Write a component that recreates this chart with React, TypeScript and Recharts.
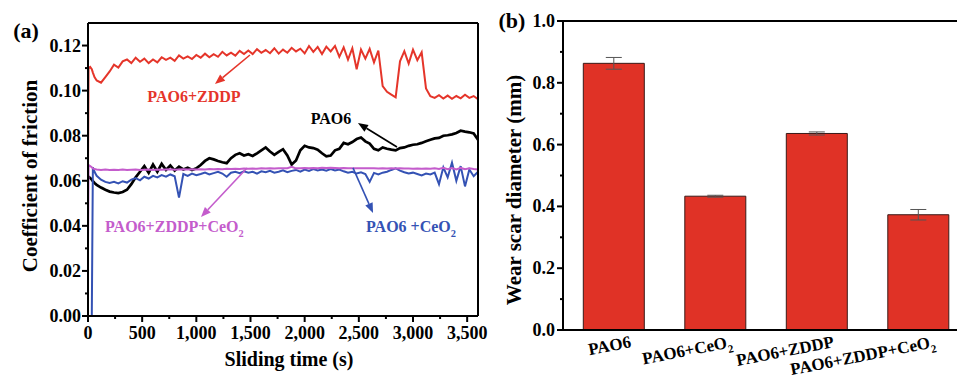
import React from "react";
import {
  LineChart,
  Line,
  XAxis,
  YAxis,
  ReferenceLine,
  BarChart,
  Bar,
  ErrorBar,
} from "recharts";

const FONT = '"Liberation Serif", "Times New Roman", serif';

// sliding time (s) shared by the four friction curves
const times = [
  0, 5, 20, 35, 45, 60, 80, 120, 160, 200,
  240, 280, 320, 360, 400, 440, 480, 520, 560, 600,
  640, 680, 720, 760, 800, 840, 880, 920, 960, 1000,
  1040, 1080, 1120, 1160, 1200, 1240, 1280, 1320, 1360, 1400,
  1440, 1480, 1520, 1560, 1600, 1640, 1680, 1720, 1760, 1800,
  1840, 1880, 1920, 1960, 2000, 2040, 2080, 2120, 2160, 2200,
  2240, 2280, 2320, 2360, 2400, 2440, 2480, 2520, 2560, 2600,
  2640, 2680, 2720, 2760, 2800, 2840, 2880, 2920, 2960, 3000,
  3040, 3080, 3120, 3160, 3200, 3240, 3280, 3320, 3360, 3400,
  3440, 3480, 3520, 3560, 3600,
];

const pao6 = [
  0.062, 0.0618, 0.0612, 0.0605, 0.0598, 0.059, 0.0582, 0.057, 0.056, 0.0552,
  0.0548, 0.0545, 0.055, 0.056, 0.0585, 0.0615, 0.064, 0.0665, 0.0635, 0.0672,
  0.064, 0.0675, 0.0648, 0.0668, 0.0645, 0.0662, 0.065, 0.0658, 0.0648, 0.0655,
  0.067, 0.0688, 0.07, 0.0695, 0.0688, 0.0682, 0.0678, 0.07, 0.0715, 0.0722,
  0.0712, 0.0718, 0.071, 0.0722, 0.0735, 0.0748, 0.073, 0.0715, 0.0728, 0.074,
  0.0712, 0.0672, 0.069, 0.0735, 0.0755, 0.0748, 0.0745, 0.0738, 0.0722, 0.0708,
  0.0712, 0.0735, 0.0742, 0.0768, 0.0762, 0.0772, 0.0785, 0.0792, 0.0775, 0.0765,
  0.0742, 0.0735, 0.0748, 0.0742, 0.0738, 0.0735, 0.0745, 0.0748, 0.0755, 0.076,
  0.0762, 0.0768, 0.0775, 0.0782, 0.0788, 0.079, 0.08, 0.0802, 0.0806, 0.0812,
  0.0822, 0.0818, 0.0815, 0.081, 0.0782,
];

const pao6Zddp = [
  0.065, 0.11, 0.1105, 0.1095, 0.108, 0.106, 0.1045, 0.1035, 0.106, 0.1085,
  0.1115, 0.1102, 0.113, 0.1138, 0.1122, 0.1146, 0.1128, 0.1142, 0.1122, 0.1138,
  0.1125, 0.1148, 0.1136, 0.1146, 0.1132, 0.1156, 0.1142, 0.1152, 0.114, 0.1158,
  0.1146, 0.1164, 0.1148, 0.1162, 0.115, 0.1172, 0.1156, 0.1168, 0.1155, 0.1176,
  0.1162, 0.1178, 0.1162, 0.1184, 0.1168, 0.118, 0.1166, 0.1188, 0.1164, 0.1182,
  0.1168, 0.119, 0.1174, 0.1186, 0.1165, 0.1198, 0.1172, 0.1194, 0.1162, 0.1195,
  0.1174, 0.1198, 0.115, 0.1192, 0.1138, 0.1188, 0.1095, 0.1182, 0.1142, 0.1185,
  0.1125, 0.1178, 0.102, 0.0995, 0.0982, 0.097, 0.113, 0.1175, 0.112, 0.1182,
  0.1135, 0.117, 0.101, 0.0975, 0.0968, 0.098, 0.0965, 0.0978, 0.0964, 0.0976,
  0.0966, 0.0982, 0.0968, 0.0976, 0.0962,
];

const pao6CeO2 = [
  0, 0, 0, 0, 0.066, 0.064, 0.0622, 0.0605, 0.0595, 0.059,
  0.0595, 0.0588, 0.0598, 0.0592, 0.0605, 0.0612, 0.0602, 0.0618, 0.061, 0.0622,
  0.0615, 0.0625, 0.0618, 0.0628, 0.062, 0.0525, 0.063, 0.0622, 0.0632, 0.0625,
  0.063, 0.0636, 0.0628, 0.0634, 0.064, 0.0632, 0.0618, 0.0636, 0.064, 0.0634,
  0.0642, 0.0636, 0.064, 0.0632, 0.0642, 0.0638, 0.0644, 0.0636, 0.064, 0.0646,
  0.0638, 0.0644, 0.0648, 0.064, 0.065, 0.0644, 0.0652, 0.0646, 0.065, 0.0645,
  0.0652, 0.0646, 0.065, 0.0642, 0.0636, 0.064, 0.0632, 0.0638, 0.063, 0.0595,
  0.0635, 0.0628, 0.0636, 0.064, 0.0648, 0.0655, 0.0645, 0.0638, 0.0632, 0.0636,
  0.063, 0.0624, 0.0632, 0.0628, 0.0636, 0.0585, 0.066, 0.0615, 0.068, 0.06,
  0.0665, 0.0575, 0.065, 0.062, 0.064,
];

const pao6ZddpCeO2 = [
  0.033, 0.067, 0.0665, 0.066, 0.0655, 0.0652, 0.065, 0.0648, 0.065, 0.0648,
  0.0649, 0.0648, 0.065, 0.0648, 0.0649, 0.065, 0.0648, 0.0649, 0.065, 0.0648,
  0.065, 0.0649, 0.065, 0.0651, 0.0649, 0.065, 0.0651, 0.065, 0.0651, 0.065,
  0.0651, 0.065, 0.0652, 0.0651, 0.0652, 0.0651, 0.0653, 0.0652, 0.0653, 0.0652,
  0.0654, 0.0653, 0.0654, 0.0653, 0.0655, 0.0654, 0.0655, 0.0654, 0.0656, 0.0655,
  0.0656, 0.0662, 0.0655, 0.0656, 0.0657, 0.0656, 0.0657, 0.0656, 0.0658, 0.0657,
  0.0658, 0.0657, 0.0656, 0.0657, 0.0656, 0.0655, 0.0656, 0.0655, 0.0656, 0.0655,
  0.0655, 0.0654, 0.0655, 0.0654, 0.0655, 0.0654, 0.0655, 0.0654, 0.0654, 0.0653,
  0.0654, 0.0653, 0.0654, 0.0653, 0.0655, 0.0652, 0.0658, 0.0651, 0.0656, 0.065,
  0.0657, 0.0651, 0.0655, 0.0652, 0.065,
];

const fricTicks = [0, 0.01, 0.02, 0.03, 0.04, 0.05, 0.06, 0.07, 0.08, 0.09, 0.1, 0.11, 0.12];
const timeTicks = [0, 250, 500, 750, 1000, 1250, 1500, 1750, 2000, 2250, 2500, 2750, 3000, 3250, 3500];

// wear scar diameter (mm)
const wearCats = ["PAO6", "PAO6+CeO2", "PAO6+ZDDP", "PAO6+ZDDP+CeO2"];
const wearMean = [0.863, 0.433, 0.636, 0.373];
const wearErr = [0.019, 0.003, 0.005, 0.017];
const wearTicks = [0, 0.1, 0.2, 0.3, 0.4, 0.5, 0.6, 0.7, 0.8, 0.9, 1.0];

const RED = "#e5352a";
const BLUE = "#3452b4";
const MAGENTA = "#c45ccc";

const toRows = (vals: number[]) => times.map((t, i) => ({ t, v: vals[i] }));

const wearData = wearCats.map((c, i) => ({ name: c, d: wearMean[i], err: wearErr[i] }));

function Chem({ label, size }: { label: string; size: number }) {
  // CeO2 -> CeO with subscript 2
  if (label.endsWith("O2")) {
    return (
      <>
        {label.slice(0, -1)}
        <tspan dy={size * 0.3} fontSize={size * 0.65}>
          2
        </tspan>
      </>
    );
  }
  return <>{label}</>;
}

function LeftYTick(props: any) {
  const { x, y, index, payload } = props;
  const major = index % 2 === 0;
  return (
    <g>
      <line x1={x} x2={x - (major ? 6 : 3)} y1={y} y2={y} stroke="#000" strokeWidth={2} />
      {major && (
        <text x={x - 7} y={y + 6} textAnchor="end" fontSize={18} fontWeight="bold" fontFamily={FONT} fill="#000">
          {payload.value.toFixed(2)}
        </text>
      )}
    </g>
  );
}

function RightBorderTick(props: any) {
  const { x, y, index } = props;
  const major = index % 2 === 0;
  return <line x1={x} x2={x + (major ? 4 : 2)} y1={y} y2={y} stroke="#000" strokeWidth={1.5} />;
}

function TimeTick(props: any) {
  const { x, y, index, payload } = props;
  const major = index % 2 === 0;
  return (
    <g>
      <line x1={x} x2={x} y1={y} y2={y + (major ? 6 : 3)} stroke="#000" strokeWidth={2} />
      {major && (
        <text x={x} y={y + 23} textAnchor="middle" fontSize={18} fontWeight="bold" fontFamily={FONT} fill="#000">
          {payload.value.toLocaleString("en-US")}
        </text>
      )}
    </g>
  );
}

function WearYTick(props: any) {
  const { x, y, index, payload } = props;
  const major = index % 2 === 0;
  return (
    <g>
      <line x1={x} x2={x - (major ? 6 : 3)} y1={y} y2={y} stroke="#000" strokeWidth={2} />
      {major && (
        <text x={x - 8} y={y + 6} textAnchor="end" fontSize={18} fontWeight="bold" fontFamily={FONT} fill="#000">
          {payload.value.toFixed(1)}
        </text>
      )}
    </g>
  );
}

function WearXTick(props: any) {
  const { x, y, payload } = props;
  const tx = x + 18;
  const ty = y + 17;
  const tf = `translate(${tx}px, ${ty}px) rotate(-11deg)`;
  return (
    <g
      transform={`translate(${tx},${ty}) rotate(-11)`}
      style={{ transform: tf, transformBox: "view-box", transformOrigin: "0 0" }}
    >
      <text x={0} y={0} textAnchor="end" fontSize={17} fontWeight="bold" fontFamily={FONT} fill="#000">
        <Chem label={payload.value} size={17} />
      </text>
    </g>
  );
}

function makeArrow(color: string) {
  return (p: any) => {
    const { x1, y1, x2, y2 } = p;
    const ang = Math.atan2(y2 - y1, x2 - x1);
    const L = 10;
    const W = 4;
    const bx = x2 - L * Math.cos(ang);
    const by = y2 - L * Math.sin(ang);
    const px = -Math.sin(ang) * W;
    const py = Math.cos(ang) * W;
    return (
      <g>
        <line x1={x1} y1={y1} x2={bx} y2={by} stroke={color} strokeWidth={1.6} />
        <polygon points={`${x2},${y2} ${bx + px},${by + py} ${bx - px},${by - py}`} fill={color} />
      </g>
    );
  };
}

export default function App() {
  return (
    <div
      style={{
        position: "absolute",
        left: 0,
        top: 0,
        width: 957,
        height: 379,
        overflow: "hidden",
        background: "#fff",
        fontFamily: FONT,
      }}
    >
      {/* (a) friction curves */}
      <div style={{ position: "absolute", left: 0, top: 0 }}>
        <LineChart width={490} height={379} margin={{ top: 23, right: 0, bottom: 0, left: 0 }}>
          <XAxis
            dataKey="t"
            type="number"
            domain={[0, 3600]}
            ticks={timeTicks}
            interval={0}
            height={63}
            tickSize={0}
            tickMargin={0}
            tickLine={false}
            axisLine={{ stroke: "#000", strokeWidth: 2 }}
            tick={(p: any) => <TimeTick {...p} />}
            allowDataOverflow
          />
          <YAxis
            type="number"
            domain={[0, 0.13]}
            ticks={fricTicks}
            interval={0}
            width={88}
            tickSize={0}
            tickMargin={0}
            tickLine={false}
            axisLine={{ stroke: "#000", strokeWidth: 2 }}
            tick={(p: any) => <LeftYTick {...p} />}
            allowDataOverflow
          />
          <YAxis
            yAxisId="r"
            orientation="right"
            type="number"
            domain={[0, 0.13]}
            ticks={fricTicks}
            interval={0}
            width={12}
            tickSize={0}
            tickMargin={0}
            tickLine={false}
            axisLine={{ stroke: "#000", strokeWidth: 2 }}
            tick={(p: any) => <RightBorderTick {...p} />}
          />
          <ReferenceLine y={0.13} stroke="#000" strokeWidth={2} />
          <Line data={toRows(pao6)} dataKey="v" stroke="#000" strokeWidth={2.7} dot={false} isAnimationActive={false} />
          <Line data={toRows(pao6Zddp)} dataKey="v" stroke={RED} strokeWidth={2} dot={false} isAnimationActive={false} />
          <Line data={toRows(pao6CeO2)} dataKey="v" stroke={BLUE} strokeWidth={2} dot={false} isAnimationActive={false} />
          <Line data={toRows(pao6ZddpCeO2)} dataKey="v" stroke={MAGENTA} strokeWidth={2} dot={false} isAnimationActive={false} />
          <ReferenceLine segment={[{ x: 1495, y: 0.1158 }, { x: 1172, y: 0.1029 }]} shape={makeArrow(RED)} />
          <ReferenceLine segment={[{ x: 2852, y: 0.075 }, { x: 2492, y: 0.0856 }]} shape={makeArrow("#000")} />
          <ReferenceLine segment={[{ x: 1468, y: 0.0657 }, { x: 1043, y: 0.0439 }]} shape={makeArrow(MAGENTA)} />
          <ReferenceLine segment={[{ x: 2446, y: 0.0657 }, { x: 2631, y: 0.0457 }]} shape={makeArrow(BLUE)} />
        </LineChart>
      </div>

      {/* (b) wear scar diameter */}
      <div style={{ position: "absolute", left: 470, top: 0 }}>
        <BarChart
          width={499}
          height={379}
          data={wearData}
          margin={{ top: 21, right: 0, bottom: 0, left: 0 }}
          barCategoryGap="20%"
        >
          <XAxis
            dataKey="name"
            height={49}
            tickSize={0}
            tickMargin={0}
            tickLine={false}
            interval={0}
            axisLine={{ stroke: "#000", strokeWidth: 2 }}
            tick={(p: any) => <WearXTick {...p} />}
          />
          <YAxis
            type="number"
            domain={[0, 1]}
            ticks={wearTicks}
            interval={0}
            width={93}
            tickSize={0}
            tickMargin={0}
            tickLine={false}
            axisLine={{ stroke: "#000", strokeWidth: 2 }}
            tick={(p: any) => <WearYTick {...p} />}
          />
          <ReferenceLine y={1} stroke="#000" strokeWidth={2} />
          <Bar dataKey="d" fill="#e03226" stroke="#3a1a18" strokeWidth={1} isAnimationActive={false}>
            <ErrorBar dataKey="err" width={8} stroke="#555" strokeWidth={1} isAnimationActive={false} />
          </Bar>
        </BarChart>
      </div>

      {/* titles and annotations */}
      <svg
        width={957}
        height={379}
        style={{ position: "absolute", left: 0, top: 0, pointerEvents: "none" }}
        fontFamily={FONT}
        fontWeight="bold"
      >
        <text x={26} y={38} fontSize={22} textAnchor="middle">(a)</text>
        <text x={512} y={28} fontSize={22} textAnchor="middle">(b)</text>
        <text transform="translate(37,176) rotate(-90)" textAnchor="middle" fontSize={21}>
          Coefficient of friction
        </text>
        <text x={289} y={366} textAnchor="middle" fontSize={20}>
          Sliding time (s)
        </text>
        <text transform="translate(521,190) rotate(-90)" textAnchor="middle" fontSize={21}>
          Wear scar diameter (mm)
        </text>
        <text x={194} y={102} textAnchor="middle" fontSize={16} fill={RED}>
          PAO6+ZDDP
        </text>
        <text x={331} y={124} textAnchor="middle" fontSize={16} fill="#000">
          PAO6
        </text>
        <text x={105} y={232} fontSize={16} fill={MAGENTA}>
          <Chem label="PAO6+ZDDP+CeO2" size={16} />
        </text>
        <text x={366} y={232} fontSize={16} fill={BLUE}>
          <Chem label="PAO6 +CeO2" size={16} />
        </text>
      </svg>
    </div>
  );
}
